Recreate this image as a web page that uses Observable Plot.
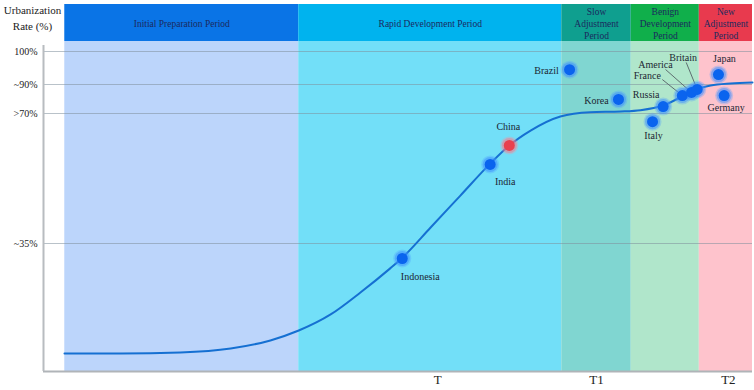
<!DOCTYPE html>
<html><head><meta charset="utf-8">
<script src="https://cdn.jsdelivr.net/npm/d3@7"></script>
<script src="https://cdn.jsdelivr.net/npm/@observablehq/plot@0.6"></script>
<style>
body{margin:0;background:#fff}
#chart svg{display:block;background:#fff}
#chart svg, #chart svg text{font-family:"Liberation Serif","DejaVu Serif",serif !important}
</style>
</head><body><div id="chart"></div>
<script>
// ---- data ----
const periods = ["Initial Preparation Period", "Rapid Development Period", "Slow\nAdjustment\nPeriod", "Benign\nDevelopment\nPeriod", "New\nAdjustment\nPeriod"];
const periodStart = [3, 36, 73.1, 82.9, 92.5];
const periodEnd = [36, 73.1, 82.9, 92.5, 100];
const headerColors = ["#0a74e6", "#00b3ee", "#0f9f8f", "#10af4b", "#e83a4e"];
const bgColors = ["#bcd5fb", "#72dff8", "#80d6d1", "#b0e6cb", "#fec3cc"];

const curveTime = [2.96, 10.9, 19.3, 26.4, 32.0, 36.0, 40.5, 44.7, 48.9, 50.5, 54.6, 58.8, 63.0, 65.7, 68.7, 72.9, 77.1, 81.4, 84.2, 87.4, 90.3, 92.0, 94.1, 96.9, 100];
const curveRate = [4.9, 4.9, 5.2, 6.3, 8.5, 11.2, 15.6, 21.6, 28.2, 30.9, 39.3, 47.9, 56.5, 61.4, 65.4, 69.2, 70.9, 71.4, 72.3, 75.5, 82.4, 86.6, 89.3, 90.3, 90.6];

const countries = ["Brazil", "Korea", "Russia", "Italy", "France", "America", "Britain", "Japan", "Germany", "China", "India", "Indonesia"];
const countryTime = [74.2, 81.1, 87.4, 85.9, 90.1, 91.4, 92.2, 95.2, 96.0, 65.7, 63.0, 50.6];
const countryRate = [94.5, 79.7, 74.8, 67.8, 82.4, 84.5, 86.6, 93.0, 82.4, 61.4, 56.3, 30.9];

const yTicks = [100, 90, 70, 35];
const yTickLabels = ["100%", "~90%", ">70%", "~35%"];
const xTicks = [55.6, 78, 96.6];
const xTickLabels = ["T", "T1", "T2"];

// ---- layout (not data) ----
const W = 754, H = 390, mL = 43, mR = 2, mT = 4, mB = 19;
// the rate axis is drawn schematically (unevenly spaced): map rate -> visual height
const rateKnots = [0, 35, 70, 90, 100, 103, 110];
const visKnots = [0, 128, 258, 287, 320, 330, 367];
const pw = d3.scaleLinear(rateKnots, visKnots);
const xDomain = [0, 100];
const yVisDomain = [0, 367];
const xS = d3.scaleLinear(xDomain, [mL, W - mR]);
const yS = d3.scaleLinear(yVisDomain, [H - mB, mT]);

const labelOffset = {
  Brazil: [-23, 1], Korea: [-22, 1], Russia: [-17, -12], Italy: [1, 14],
  France: [-35, -20], America: [-36, -28], Britain: [-14, -32],
  Japan: [6, -16], Germany: [2, 12], China: [-1, -19], India: [15, 17], Indonesia: [18, 18]
};
const leaderStart = { France: [-20, -16], America: [-26, -23], Britain: [-11, -27] };

const bands = periods.map((name, i) => ({name, x1: periodStart[i], x2: periodEnd[i], head: headerColors[i], bg: bgColors[i]}));
const curve = curveTime.map((t, i) => ({t, v: pw(curveRate[i])}));
const pts = countries.map((name, i) => {
  const o = labelOffset[name];
  const v = pw(countryRate[i]);
  return {name, t: countryTime[i], v, china: name === "China",
    lx: xS.invert(xS(countryTime[i]) + o[0]), ly: yS.invert(yS(v) + o[1])};
});
const leaders = pts.filter(d => leaderStart[d.name]).map(d => {
  const o = leaderStart[d.name];
  return {x1: xS.invert(xS(d.t) + o[0]), y1: yS.invert(yS(d.v) + o[1]), x2: d.t, y2: d.v};
});

const chart = Plot.plot({
  width: W, height: H,
  marginLeft: mL, marginRight: mR, marginTop: mT, marginBottom: mB,
  style: {fontSize: "10px", background: "#fff"},
  x: {domain: xDomain, axis: null},
  y: {domain: yVisDomain, axis: null},
  marks: [
    Plot.rectY(bands, {x1: "x1", x2: "x2", y1: 0, y2: pw(103), fill: "bg"}),
    Plot.rectY(bands, {x1: "x1", x2: "x2", y1: pw(103), y2: pw(110), fill: "head"}),
    Plot.ruleY(yTicks.map(pw), {stroke: "#7f8f9c", strokeOpacity: 0.55, strokeWidth: 1}),
    Plot.ruleY([0], {stroke: "#b0b4b8", strokeWidth: 2}),
    Plot.ruleX([0], {y1: 0, y2: pw(101.8), stroke: "#b8bcc0", strokeWidth: 2}),
    Plot.line(curve, {x: "t", y: "v", curve: "monotone-x", stroke: "#1570d2", strokeWidth: 2}),
    Plot.link(leaders, {x1: "x1", y1: "y1", x2: "x2", y2: "y2", stroke: "#5e6e70", strokeWidth: 1}),
    Plot.dot(pts, {x: "t", y: "v", r: 9, fill: d => d.china ? "#ff8a98" : "#4c9aff", fillOpacity: 0.3}),
    Plot.dot(pts, {x: "t", y: "v", r: 7.5, fill: d => d.china ? "#ff7080" : "#3a8cff", fillOpacity: 0.45}),
    Plot.dot(pts, {x: "t", y: "v", r: 5.5, fill: d => d.china ? "#e8404f" : "#0a64ee"}),
    Plot.text(pts, {x: "lx", y: "ly", text: "name", fontSize: 10, fill: "#1c2633"}),
    Plot.text(bands, {x: d => (d.x1 + d.x2) / 2, y: pw(106.5), text: "name", fontSize: 9.5, lineHeight: 1.25, fill: "#1b2a5e"}),
    Plot.text(yTickLabels, {y: yTicks.map(pw), text: d => d, frameAnchor: "left", textAnchor: "end", dx: -6, fontSize: 10, fill: "#222"}),
    Plot.text(xTickLabels, {x: xTicks, text: d => d, frameAnchor: "bottom", dy: 12, fontSize: 13, fill: "#222"}),
    Plot.text(["Urbanization\nRate (%)"], {frameAnchor: "top-left", text: d => d, dx: -11, dy: -2, lineAnchor: "top", textAnchor: "middle", fontSize: 11, lineHeight: 1.45, fill: "#222"})
  ]
});
document.getElementById("chart").appendChild(chart);
</script>
</body></html>
